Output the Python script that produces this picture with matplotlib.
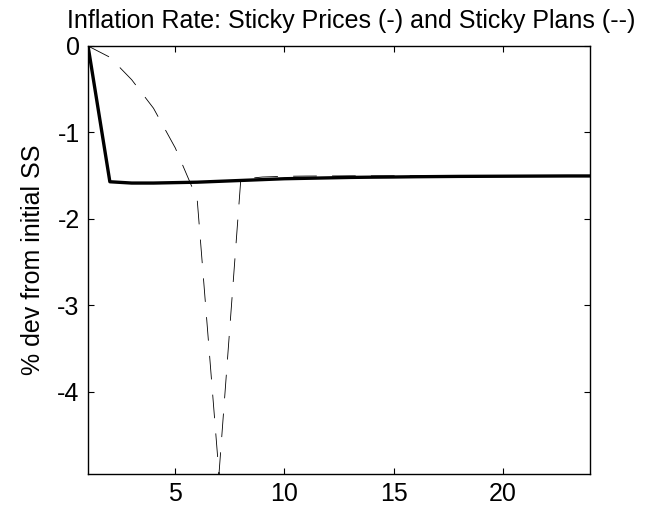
import matplotlib
matplotlib.use("Agg")
import matplotlib.pyplot as plt

plt.rcParams['font.family'] = ['Liberation Sans', 'DejaVu Sans']
plt.rcParams['axes.unicode_minus'] = False
plt.rcParams['lines.scale_dashes'] = False

# -----------------------------
# Data (periods 1..24)
# -----------------------------
periods = list(range(1, 25))

sticky_prices = [0.0, -1.57, -1.585, -1.585, -1.58, -1.575, -1.565, -1.555,
                 -1.545, -1.535, -1.53, -1.525, -1.52, -1.517, -1.515, -1.512,
                 -1.51, -1.508, -1.507, -1.506, -1.505, -1.504, -1.503, -1.503]

sticky_plans = [0.0, -0.13, -0.39, -0.72, -1.18, -1.77, -4.95, -1.54,
                -1.515, -1.507, -1.504, -1.503, -1.502, -1.502, -1.501, -1.501,
                -1.501, -1.5, -1.5, -1.5, -1.5, -1.5, -1.5, -1.5]

y_ticks = [0, -1, -2, -3, -4]
x_ticks = [5, 10, 15, 20]

# -----------------------------
# Plot
# -----------------------------
fig = plt.figure(figsize=(6.54, 5.18), dpi=100)
ax = fig.add_axes([0.1346, 0.0849, 0.7676, 0.8263])

ax.plot(periods, sticky_prices, color='black', linewidth=2.4)
ax.plot(periods, sticky_plans, color='black', linewidth=0.6, dashes=(17, 11))

ax.set_xlim(1, 24)
ax.set_ylim(min(sticky_plans), 0)
ax.set_xticks(x_ticks)
ax.set_yticks(y_ticks)
ax.set_yticklabels([str(t) for t in y_ticks])

ax.tick_params(direction='in', length=4, width=0.8, labelsize=18,
               top=True, right=True, pad=6)
for s in ax.spines.values():
    s.set_linewidth(1.0)

ax.set_ylabel('% dev from initial SS', fontsize=18, labelpad=9)
ax.set_title('Inflation Rate: Sticky Prices (-) and Sticky Plans (--)',
             fontsize=18, x=0.525, pad=13)

fig.savefig('out.png', dpi=100)
